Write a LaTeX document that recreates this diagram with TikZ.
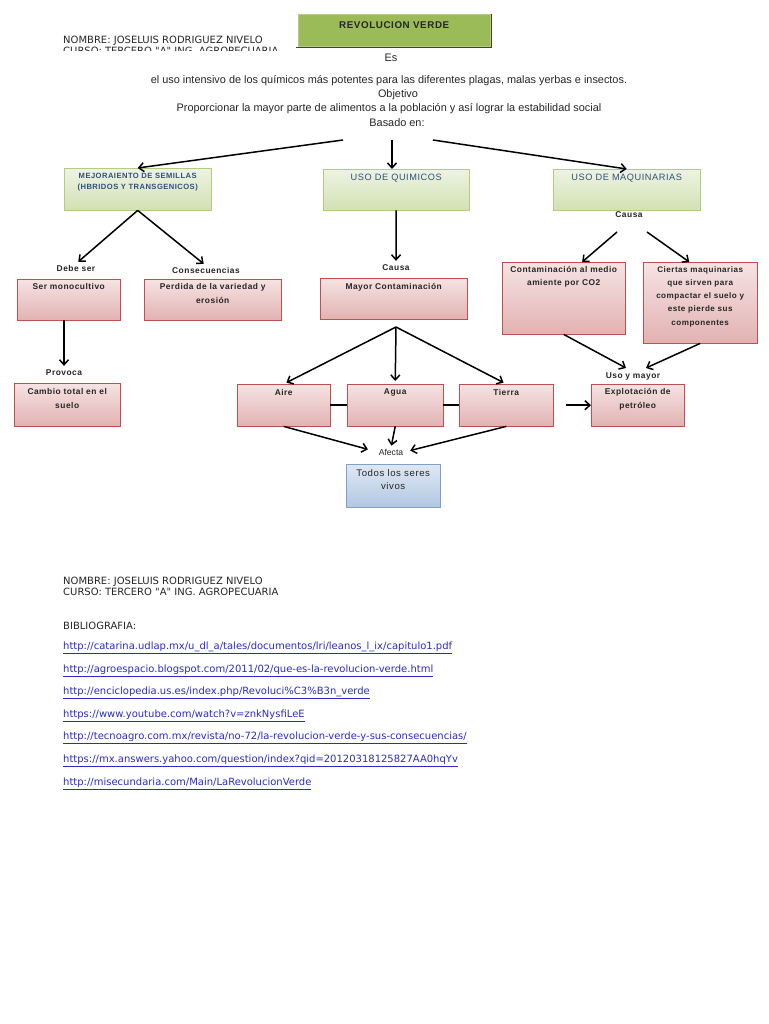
\documentclass[tikz,border=0pt]{standalone}
\usepackage{fontspec}
\setmainfont{Liberation Sans}
\newfontfamily\ancho[LetterSpace=6]{Liberation Sans}
\newfontfamily\djv{DejaVu Sans}
\usetikzlibrary{arrows.meta, positioning}
\definecolor{verde-titulo}{HTML}{9BBB59}
\definecolor{verde-borde}{HTML}{B3CD80}
\definecolor{verde-claro}{HTML}{EEF3E2}
\definecolor{verde-medio}{HTML}{D2E1B4}
\definecolor{rojo-borde}{HTML}{C0504D}
\definecolor{rosa-claro}{HTML}{F6E3E3}
\definecolor{rosa-medio}{HTML}{E2B2B2}
\definecolor{azul-borde}{HTML}{7F9FCC}
\definecolor{azul-claro}{HTML}{DFE8F4}
\definecolor{azul-medio}{HTML}{B2C7E2}
\definecolor{azul-texto}{HTML}{2F4F80}
\definecolor{tinta}{HTML}{262626}
\definecolor{enlace}{HTML}{2B2BC8}

\begin{document}
\begin{tikzpicture}[x=1pt, y=-1pt,
    every node/.style={font=\ancho\fontsize{8.4}{14}\selectfont\bfseries, text=tinta, inner sep=1pt},
    verdebox/.style={draw=verde-borde, top color=verde-claro, bottom color=verde-medio,
      anchor=north west, inner sep=0pt},
    rosabox/.style={draw=rojo-borde, top color=rosa-claro, bottom color=rosa-medio,
      anchor=north west, inner sep=0pt},
    azulbox/.style={draw=azul-borde, top color=azul-claro, bottom color=azul-medio,
      anchor=north west, inner sep=0pt},
    frase/.style={font=\fontsize{10.9}{14}\selectfont},
    nota/.style={font=\djv\fontsize{10}{11}\selectfont, anchor=west, align=left},
    enlace/.style={font=\djv\fontsize{10}{11}\selectfont, text=enlace, anchor=west},
    flecha/.style={-{Straight Barb[length=5pt, width=9pt]}, line width=1.5pt},
    linea/.style={line width=1.5pt}]
  \useasboundingbox[fill=white] (0,0) rectangle (768,1024);

  % cabecera
  \begin{scope}
    \clip (0,0) rectangle (768,51);
    \node[nota] (nombre) at (62,45.5) {NOMBRE: JOSELUIS RODRIGUEZ NIVELO\\CURSO: TERCERO "A" ING. AGROPECUARIA};
  \end{scope}
  \node[draw=verde-borde, fill=verde-titulo, anchor=north west, minimum width=192pt,
    minimum height=32pt, inner sep=0pt] (titulo) at (298,14) {};
  \draw[line width=1.2pt, black!75] ([xshift=1pt]titulo.north east) -- ([xshift=1pt,yshift=-1pt]titulo.south east)
    -- ([xshift=-2pt,yshift=-1pt]titulo.south west);
  \node[font=\ancho\fontsize{9.8}{12}\selectfont\bfseries, below=6.5pt of titulo.north] (ttitulo) {REVOLUCION VERDE};

  \node[frase] (es) at (391,58) {Es};
  \node[frase] (def) at (389,81) {el uso intensivo de los químicos más potentes para las diferentes plagas, malas yerbas e insectos.};
  \node[frase] (objetivo) at (398,95) {Objetivo};
  \node[frase] (prop) at (389,109) {Proporcionar la mayor parte de alimentos a la población y así lograr la estabilidad social};
  \node[frase] (basado) at (397,123) {Basado en:};
  \coordinate (raizI) at (343,140);
  \coordinate (raizC) at (392,140);
  \coordinate (raizD) at (433,140);

  % bases
  \node[verdebox, minimum width=147pt, minimum height=42pt] (semillas) at (64,168) {};
  \node[below=3.5pt of semillas.north, align=center, text=azul-texto,
    font=\ancho\fontsize{7.6}{11}\selectfont\bfseries] (tsemillas) {MEJORAIENTO DE SEMILLAS\\(HBRIDOS Y TRANSGENICOS)};
  \node[verdebox, minimum width=146pt, minimum height=41pt] (quimicos) at (323,169) {};
  \node[below=4pt of quimicos.north, text=azul-texto, font=\ancho\fontsize{9.2}{11}\selectfont] (tquimicos) {USO DE QUIMICOS};
  \node[verdebox, minimum width=147pt, minimum height=41pt] (maquinas) at (553,169) {};
  \node[below=4pt of maquinas.north, text=azul-texto, font=\ancho\fontsize{9.2}{11}\selectfont] (tmaquinas) {USO DE MAQUINARIAS};
  \draw[flecha] (raizI) -- (semillas.north);
  \draw[flecha] (raizC) -- (raizC |- quimicos.north);
  \draw[flecha] (raizD) -- (maquinas.north);

  % semillas
  \node (debe) at (76,268) {Debe ser};
  \node (consec) at (206,270) {Consecuencias};
  \node[rosabox, minimum width=103pt, minimum height=41pt] (mono) at (17,279) {};
  \node[below=3.5pt of mono.north] (tmono) {Ser monocultivo};
  \node[rosabox, minimum width=137pt, minimum height=41pt] (perdida) at (144,279) {};
  \node[below=3.5pt of perdida.north, align=center] (tperdida) {Perdida de la variedad y\\erosión};
  \node (provoca) at (64,373) {Provoca};
  \node[rosabox, minimum width=106pt, minimum height=43pt] (cambio) at (14,383) {};
  \node[below=4pt of cambio.north, align=center] (tcambio) {Cambio total en el\\suelo};
  \draw[flecha, shorten >=3pt] (semillas.south) -- (debe.north);
  \draw[flecha, shorten >=3pt] (semillas.south) -- (consec.north);
  \draw[flecha, shorten >=3pt] (provoca.north |- mono.south) -- (provoca.north);

  % quimicos
  \node (causaQ) at (396,268) {Causa};
  \node[rosabox, minimum width=147pt, minimum height=41pt] (contam) at (320,278) {};
  \node[below=4pt of contam.north] (tcontam) {Mayor Contaminación};
  \draw[flecha, shorten >=3pt] (quimicos.south) -- (causaQ.north);
  \coordinate (nudo) at (396,327);
  \node[rosabox, minimum width=93pt, minimum height=42pt] (aire) at (237,384) {};
  \node[below=4pt of aire.north] (taire) {Aire};
  \node[rosabox, minimum width=96pt, minimum height=42pt] (agua) at (347,384) {};
  \node[below=4pt of agua.north] (tagua) {Agua};
  \node[rosabox, minimum width=94pt, minimum height=42pt] (tierra) at (459,384) {};
  \node[below=4pt of tierra.north] (ttierra) {Tierra};
  \draw[flecha, shorten >=3pt] (nudo) -- (aire.north);
  \draw[flecha, shorten >=3pt] (nudo) -- (agua.north);
  \draw[flecha, shorten >=3pt] (nudo) -- (tierra.north);
  \draw[linea] (aire.east) -- (agua.west);
  \draw[linea] (agua.east) -- (tierra.west);
  \node[font=\fontsize{8.6}{10}\selectfont] (afecta) at (391,452) {Afecta};
  \node[azulbox, minimum width=94pt, minimum height=43pt] (todos) at (346,464) {};
  \node[below=4.5pt of todos.north, align=center, font=\ancho\fontsize{9.6}{13}\selectfont] (ttodos) {Todos los seres\\vivos};
  \draw[flecha, shorten >=10pt] (aire.south) -- (afecta.west);
  \draw[flecha, shorten >=2pt] (agua.south) -- (afecta.north);
  \draw[flecha, shorten >=6pt] (tierra.south) -- (afecta.east);

  % maquinarias
  \node (causaM) at (629,215) {Causa};
  \coordinate (mq1) at (617,232);
  \coordinate (mq2) at (647,232);
  \node[rosabox, minimum width=123pt, minimum height=72pt] (co2) at (502,262) {};
  \node[below=3pt of co2.north, align=center, font=\ancho\fontsize{8.4}{13}\selectfont\bfseries] (tco2) {Contaminación al medio\\amiente por CO2};
  \node[rosabox, minimum width=114pt, minimum height=81pt] (ciertas) at (643,262) {};
  \node[below=3pt of ciertas.north, align=center, font=\ancho\fontsize{8.1}{13.3}\selectfont\bfseries] (tciertas)
    {Ciertas maquinarias\\que sirven para\\compactar el suelo y\\este pierde sus\\componentes};
  \draw[flecha] (mq1) -- (co2.63);
  \draw[flecha] (mq2) -- (ciertas.105);
  \node (uso) at (633,376) {Uso y mayor};
  \coordinate (usoI) at (626,368);
  \coordinate (usoD) at (646,368);
  \draw[flecha] (co2.south) -- (usoI);
  \draw[flecha] (ciertas.south) -- (usoD);
  \node[rosabox, minimum width=93pt, minimum height=42pt] (petroleo) at (591,384) {};
  \node[below=3.5pt of petroleo.north, align=center] (tpetroleo) {Explotación de\\petróleo};
  \draw[flecha, shorten <=13pt] (tierra.east) -- (petroleo.west);

  % pie
  \node[nota] (nombre2) at (62,586.5) {NOMBRE: JOSELUIS RODRIGUEZ NIVELO\\CURSO: TERCERO "A" ING. AGROPECUARIA};
  \node[nota] (biblio) at (62,626) {BIBLIOGRAFIA:};
  \node[enlace] (url1) at (62,648) {\underline{http://catarina.udlap.mx/u\_dl\_a/tales/documentos/lri/leanos\_l\_ix/capitulo1.pdf}};
  \node[enlace] (url2) at (62,671) {\underline{http://agroespacio.blogspot.com/2011/02/que-es-la-revolucion-verde.html}};
  \node[enlace] (url3) at (62,693) {\underline{http://enciclopedia.us.es/index.php/Revoluci\%C3\%B3n\_verde}};
  \node[enlace] (url4) at (62,716) {\underline{https://www.youtube.com/watch?v=znkNysfiLeE}};
  \node[enlace] (url5) at (62,738) {\underline{http://tecnoagro.com.mx/revista/no-72/la-revolucion-verde-y-sus-consecuencias/}};
  \node[enlace] (url6) at (62,761) {\underline{https://mx.answers.yahoo.com/question/index?qid=20120318125827AA0hqYv}};
  \node[enlace] (url7) at (62,784) {\underline{http://misecundaria.com/Main/LaRevolucionVerde}};
\end{tikzpicture}
\end{document}
